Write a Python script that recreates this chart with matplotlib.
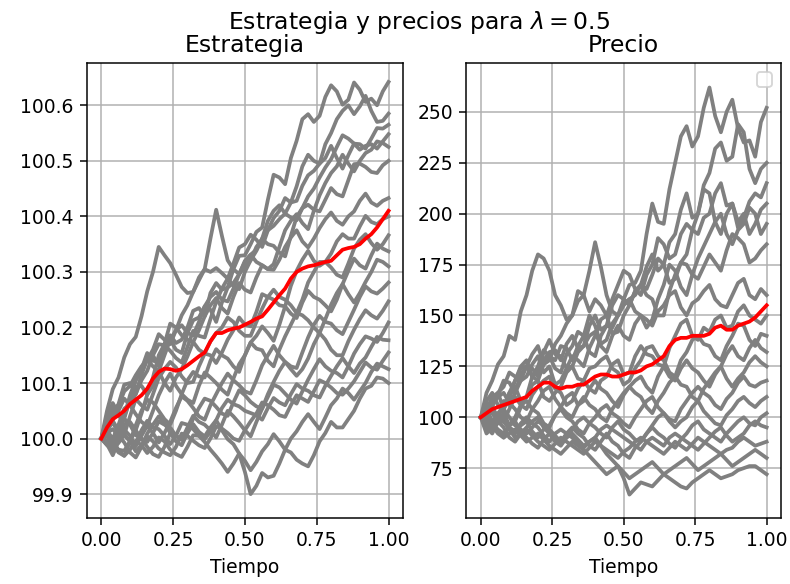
import numpy as np
import matplotlib
matplotlib.use('Agg')
import matplotlib.pyplot as plt

# tiempo (51 puntos)
tiempo = [0.00, 0.02, 0.04, 0.06, 0.08, 0.10, 0.12, 0.14, 0.16, 0.18, 0.20, 0.22, 0.24, 0.26, 0.28, 0.30, 0.32,
          0.34, 0.36, 0.38, 0.40, 0.42, 0.44, 0.46, 0.48, 0.50, 0.52, 0.54, 0.56, 0.58, 0.60, 0.62, 0.64, 0.66,
          0.68, 0.70, 0.72, 0.74, 0.76, 0.78, 0.80, 0.82, 0.84, 0.86, 0.88, 0.90, 0.92, 0.94, 0.96, 0.98, 1.00]

# trayectorias de la estrategia
estrategias = [
    [100.0,100.03,100.047,100.062,100.097,100.1,100.08,100.115,100.142,100.15,100.13,100.165,100.186,100.172,100.178,100.2,100.23,100.235,100.22,100.262,100.28,100.268,100.272,100.305,100.329,100.33,100.35,100.372,100.38,100.43,100.475,100.47,100.458,100.505,100.536,100.575,100.584,100.57,100.581,100.615,100.636,100.625,100.601,100.61,100.641,100.628,100.606,100.612,100.6,100.625,100.642],
    [100.0,100.01,99.985,100.015,100.04,100.07,100.093,100.095,100.079,100.11,100.15,100.17,100.178,100.16,100.154,100.19,100.213,100.218,100.238,100.232,100.21,100.245,100.272,100.28,100.296,100.32,100.331,100.34,100.36,100.392,100.41,100.42,100.405,100.425,100.454,100.49,100.511,100.5,100.495,100.53,100.55,100.575,100.59,100.6,100.584,100.598,100.617,100.59,100.57,100.572,100.585],
    [100.0,100.05,100.089,100.11,100.146,100.17,100.183,100.22,100.265,100.3,100.345,100.33,100.316,100.295,100.273,100.262,100.264,100.285,100.305,100.3,100.307,100.298,100.288,100.315,100.344,100.35,100.367,100.358,100.345,100.375,100.397,100.41,100.433,100.425,100.428,100.455,100.474,100.482,100.495,100.505,100.527,100.505,100.486,100.51,100.531,100.53,100.522,100.54,100.559,100.558,100.565],
    [100.0,100.012,100.032,100.06,100.085,100.095,100.114,100.13,100.142,100.16,100.188,100.178,100.17,100.195,100.222,100.24,100.264,100.29,100.305,100.36,100.412,100.365,100.321,100.305,100.296,100.31,100.321,100.338,100.36,100.375,100.383,100.395,100.405,100.398,100.393,100.415,100.436,100.45,100.47,100.488,100.503,100.525,100.546,100.54,100.531,100.52,100.527,100.53,100.522,100.535,100.548],
    [100.0,100.035,100.055,100.04,100.036,100.07,100.105,100.125,100.142,100.13,100.121,100.15,100.178,100.195,100.204,100.19,100.186,100.21,100.238,100.255,100.264,100.25,100.247,100.27,100.296,100.318,100.331,100.318,100.312,100.305,100.314,100.345,100.375,100.392,100.404,100.388,100.377,100.41,100.438,100.46,100.478,100.49,100.511,100.495,100.481,100.5,100.514,100.52,100.535,100.532,100.525],
    [100.0,100.015,99.999,100.025,100.054,100.062,100.08,100.105,100.122,100.15,100.17,100.168,100.158,100.145,100.137,100.165,100.194,100.185,100.182,100.215,100.246,100.27,100.288,100.275,100.269,100.3,100.321,100.345,100.359,100.35,100.347,100.335,100.328,100.365,100.399,100.415,100.421,100.412,100.409,100.43,100.451,100.44,100.436,100.465,100.494,100.495,100.489,100.48,100.478,100.492,100.5],
    [100.0,100.04,100.064,100.045,100.04,100.078,100.105,100.125,100.154,100.14,100.138,100.17,100.207,100.2,100.186,100.178,100.174,100.195,100.22,100.24,100.253,100.235,100.225,100.255,100.28,100.268,100.263,100.29,100.312,100.305,100.304,100.322,100.345,100.362,100.375,100.355,100.344,100.36,100.379,100.395,100.407,100.392,100.385,100.4,100.409,100.428,100.441,100.425,100.419,100.428,100.433],
    [100.0,99.99,99.97,99.995,100.026,100.03,100.015,100.045,100.079,100.095,100.121,100.1,100.086,100.11,100.125,100.148,100.174,100.16,100.153,100.15,100.136,100.155,100.178,100.195,100.218,100.205,100.202,100.228,100.26,100.255,100.25,100.24,100.238,100.275,100.302,100.322,100.338,100.32,100.311,100.318,100.333,100.355,100.368,100.36,100.36,100.382,100.401,100.39,100.386,100.395,100.4],
    [100.0,100.02,100.032,100.015,100.007,100.04,100.071,100.06,100.052,100.08,100.109,100.125,100.138,100.128,100.112,100.1,100.102,100.13,100.153,100.175,100.19,100.2,100.218,100.21,100.194,100.185,100.185,100.21,100.234,100.255,100.268,100.255,100.25,100.24,100.226,100.25,100.281,100.3,100.318,100.318,100.308,100.295,100.29,100.315,100.342,100.358,100.368,100.352,100.34,100.35,100.366],
    [100.0,99.995,99.99,99.975,99.969,99.995,100.024,100.05,100.07,100.065,100.05,100.035,100.025,100.05,100.08,100.105,100.12,100.112,100.11,100.14,100.161,100.15,100.144,100.13,100.12,100.15,100.173,100.185,100.202,100.19,100.176,100.205,100.238,100.225,100.217,100.245,100.266,100.255,100.25,100.24,100.229,100.25,100.278,100.302,100.324,100.312,100.306,100.33,100.351,100.342,100.337],
    [100.0,100.025,100.037,100.05,100.072,100.06,100.044,100.03,100.023,100.05,100.078,100.1,100.117,100.095,100.08,100.07,100.064,100.095,100.119,100.11,100.1,100.088,100.079,100.108,100.134,100.15,100.173,100.162,100.159,100.14,100.13,100.16,100.184,100.205,100.226,100.222,100.213,100.2,100.19,100.215,100.241,100.262,100.278,100.26,100.245,100.262,100.282,100.3,100.322,100.318,100.31],
    [100.0,99.988,99.98,100.0,100.016,100.005,99.986,100.005,100.023,100.01,99.993,100.01,100.03,100.055,100.076,100.068,100.055,100.04,100.034,100.06,100.08,100.1,100.117,100.105,100.096,100.085,100.081,100.105,100.132,100.15,100.167,100.15,100.138,100.13,100.127,100.155,100.182,100.205,100.221,100.21,100.207,100.195,100.188,100.21,100.232,100.255,100.274,100.265,100.261,100.27,100.281],
    [100.0,100.01,100.017,100.005,99.993,99.975,99.966,99.985,100.009,100.025,100.04,100.028,100.01,99.995,99.988,100.01,100.036,100.055,100.072,100.068,100.057,100.045,100.041,100.065,100.087,100.078,100.066,100.058,100.054,100.08,100.102,100.122,100.138,100.125,100.113,100.125,100.144,100.17,100.19,100.178,100.16,100.15,100.15,100.175,100.196,100.215,100.231,100.222,100.216,100.23,100.247],
    [100.0,100.005,99.994,99.98,99.978,99.995,100.015,100.0,99.985,99.972,99.967,99.985,100.01,100.005,99.998,100.02,100.041,100.03,100.025,100.015,100.002,100.025,100.05,100.04,100.028,100.015,100.004,100.03,100.054,100.075,100.097,100.092,100.081,100.07,100.063,100.085,100.106,100.125,100.143,100.13,100.122,100.118,100.11,100.13,100.153,100.17,100.184,100.18,100.174,100.19,100.209],
    [100.0,100.02,100.028,100.012,100.007,99.995,99.991,100.015,100.032,100.02,100.017,100.005,99.99,100.005,100.028,100.025,100.017,100.005,99.999,100.012,100.033,100.055,100.07,100.062,100.058,100.05,100.046,100.042,100.034,100.055,100.073,100.065,100.06,100.08,100.098,100.09,100.086,100.078,100.074,100.095,100.113,100.13,100.145,100.13,100.118,100.135,100.146,100.165,100.183,100.178,100.177],
    [100.0,99.99,99.985,99.992,100.007,99.995,99.977,99.988,100.004,99.995,99.982,99.975,99.97,99.985,100.009,100.005,99.996,99.988,99.983,100.0,100.022,100.018,100.01,100.0,99.996,100.015,100.031,100.045,100.065,100.06,100.052,100.042,100.039,100.06,100.078,100.072,100.066,100.085,100.105,100.1,100.092,100.082,100.079,100.09,100.103,100.12,100.137,100.128,100.124,100.14,100.155],
    [100.0,99.997,99.99,99.978,99.969,99.98,99.996,99.988,99.974,99.985,100.002,99.995,99.98,99.972,99.967,99.985,100.006,100.005,99.994,99.98,99.968,99.955,99.94,99.955,99.973,99.96,99.943,99.958,99.977,99.99,100.008,99.995,99.98,100.0,100.013,100.03,100.044,100.03,100.017,100.038,100.06,100.072,100.09,100.082,100.07,100.085,100.1,100.12,100.135,100.13,100.125],
    [100.0,100.005,99.999,100.015,100.036,100.025,100.006,100.0,99.994,100.01,100.031,100.025,100.02,100.005,99.998,100.01,100.026,100.012,100.004,100.02,100.033,100.015,99.999,99.99,99.973,99.94,99.9,99.915,99.938,99.93,99.933,99.955,99.98,99.975,99.962,99.955,99.95,99.97,99.995,100.01,100.03,100.02,100.02,100.035,100.05,100.072,100.09,100.095,100.11,100.108,100.1],
]

# trayectorias del precio
precios = [
    [100,106,108,111,118,117,112,121,125,124,120,128,132,133,128,136,140,134,135,145,150,143,145,155,160,158,165,166,172,190,205,196,195,212,225,238,243,233,238,252,262,248,240,250,256,242,235,236,228,245,252],
    [100,92,95,102,105,112,115,108,110,120,125,133,130,124,122,131,135,142,140,132,130,140,145,144,150,156,158,160,165,174,180,172,175,186,190,202,210,198,200,214,220,232,235,226,228,244,240,222,215,222,225],
    [100,112,118,126,130,140,138,152,160,172,180,178,172,160,155,148,150,157,160,152,158,155,150,158,165,172,170,163,160,170,175,188,185,178,180,190,195,192,200,212,210,196,190,200,205,193,198,206,210,208,215],
    [100,97,105,112,115,122,120,118,125,131,135,126,128,136,140,146,150,162,160,172,186,174,160,152,150,158,155,162,165,163,170,178,175,166,168,176,180,192,190,198,200,210,215,204,205,196,200,190,195,202,205],
    [100,103,110,112,104,109,118,124,125,120,118,126,130,128,135,134,128,135,140,150,145,136,138,146,150,155,158,152,150,144,148,158,165,175,172,164,160,170,178,184,190,196,200,190,185,192,195,203,200,190,195],
    [100,104,98,100,108,106,112,118,120,126,130,122,125,116,118,124,130,128,125,134,140,148,150,141,142,150,155,162,165,160,158,150,150,162,170,176,175,170,168,174,180,176,172,182,190,188,185,176,178,182,185],
    [100,108,112,106,105,112,118,125,128,120,122,132,138,131,130,124,125,132,135,140,142,135,132,140,145,140,138,146,150,148,145,152,155,160,162,154,150,156,158,162,165,158,155,154,160,166,168,160,158,163,160],
    [100,95,92,98,102,96,98,105,110,116,118,110,108,112,115,122,125,119,118,114,112,118,120,126,128,121,122,130,135,131,130,126,125,134,140,146,148,140,138,144,142,148,150,144,145,152,155,150,148,146,150],
    [100,103,105,100,98,104,110,106,104,111,115,118,120,114,112,106,108,114,118,124,125,128,130,124,122,116,118,124,128,134,135,130,128,122,120,128,132,138,140,136,135,130,128,135,140,146,145,138,135,141,140],
    [100,98,96,92,90,96,100,106,108,104,102,97,95,101,105,110,112,106,108,114,118,114,112,108,105,111,115,118,120,115,112,120,125,120,118,124,128,124,122,118,115,121,125,131,135,130,128,134,138,134,132],
    [100,104,106,110,112,107,104,100,98,104,108,113,115,109,105,102,100,106,110,106,104,100,98,104,108,112,115,112,110,105,102,108,112,117,120,116,115,110,108,114,118,122,125,119,115,119,122,127,130,127,125],
    [100,96,94,98,100,95,92,96,98,93,90,94,96,101,104,100,98,94,92,97,100,104,106,102,100,97,95,100,104,108,110,105,102,99,98,104,108,112,115,112,110,106,104,109,112,117,120,116,115,117,118],
    [100,103,102,98,95,90,88,92,95,98,100,95,92,88,86,90,94,98,100,97,95,92,90,95,98,94,92,89,88,92,96,100,102,98,95,98,100,105,108,103,100,97,96,101,104,108,110,107,105,108,110],
    [100,99,97,94,92,96,98,93,90,87,85,89,92,90,88,92,95,92,90,86,84,88,92,88,86,82,80,85,88,92,95,92,90,87,85,89,92,96,98,94,92,90,88,92,95,98,100,97,96,100,102],
    [100,102,104,100,98,95,93,97,100,97,95,91,88,92,94,92,90,87,85,88,90,94,96,94,92,90,88,86,84,88,90,88,86,90,92,90,88,86,84,87,90,93,95,91,88,90,92,96,98,96,95],
    [100,97,95,97,98,94,90,92,94,91,88,86,84,87,90,88,86,84,82,85,88,86,84,82,80,83,85,88,90,88,86,84,82,85,88,86,84,87,90,88,86,84,82,84,85,88,90,88,86,87,88],
    [100,98,96,93,90,92,94,91,88,90,92,89,86,84,82,85,88,86,84,81,78,75,72,74,76,73,70,72,74,76,78,75,72,74,76,78,80,77,74,76,78,80,82,79,76,78,80,82,84,82,80],
    [100,101,98,101,104,100,96,94,92,95,98,96,94,91,88,90,92,89,86,88,90,86,82,79,76,70,62,65,68,67,66,69,72,70,68,66,65,68,70,72,74,72,70,71,72,74,75,76,76,74,72],
]

# medias (linea roja)
estrategia_media = [100.0,100.02,100.035,100.042,100.05,100.062,100.07,100.078,100.09,100.108,100.12,100.126,100.125,100.122,100.125,100.132,100.14,100.148,100.155,100.175,100.19,100.19,100.195,100.198,100.2,100.205,100.21,100.216,100.22,100.232,100.245,100.258,100.27,100.288,100.3,100.306,100.31,100.312,100.315,100.318,100.32,100.33,100.34,100.343,100.345,100.35,100.36,100.368,100.38,100.395,100.41]
precio_medio = [100,102,104,105,106,107,108,109,110,113,115,117,117,115,114,115,115,116,116,118,120,121,121,120,120,121,122,122,123,125,126,128,130,135,138,139,139,140,140,140,141,144,145,143,143,145,146,147,149,152,155]

fig = plt.figure(figsize=(790 / 135, 584 / 135), dpi=135)
fig.suptitle(r'Estrategia y precios para $\lambda = 0.5$', x=0.53, y=0.985, fontsize=12.5)

ax1 = fig.add_axes([0.110, 0.113, 0.400, 0.779])
for camino in estrategias:
    ax1.plot(tiempo, camino, color='grey', lw=2)
ax1.plot(tiempo, estrategia_media, color='red', lw=2)
ax1.set_title('Estrategia', fontsize=12.5)
ax1.set_xlabel('Tiempo')
ax1.set_ylim(99.857, 100.676)
ax1.ticklabel_format(axis='y', useOffset=False)
ax1.grid()

ax2 = fig.add_axes([0.5905, 0.113, 0.398, 0.779])
for camino in precios:
    ax2.plot(tiempo, camino, color='grey', lw=2)
ax2.plot(tiempo, precio_medio, color='red', lw=2)
ax2.set_title('Precio', fontsize=12.5)
ax2.set_xlabel('Tiempo')
ax2.set_ylim(50.5, 274)
ax2.grid()
ax2.legend(loc='upper right')

fig.savefig('out.png', dpi=135)
